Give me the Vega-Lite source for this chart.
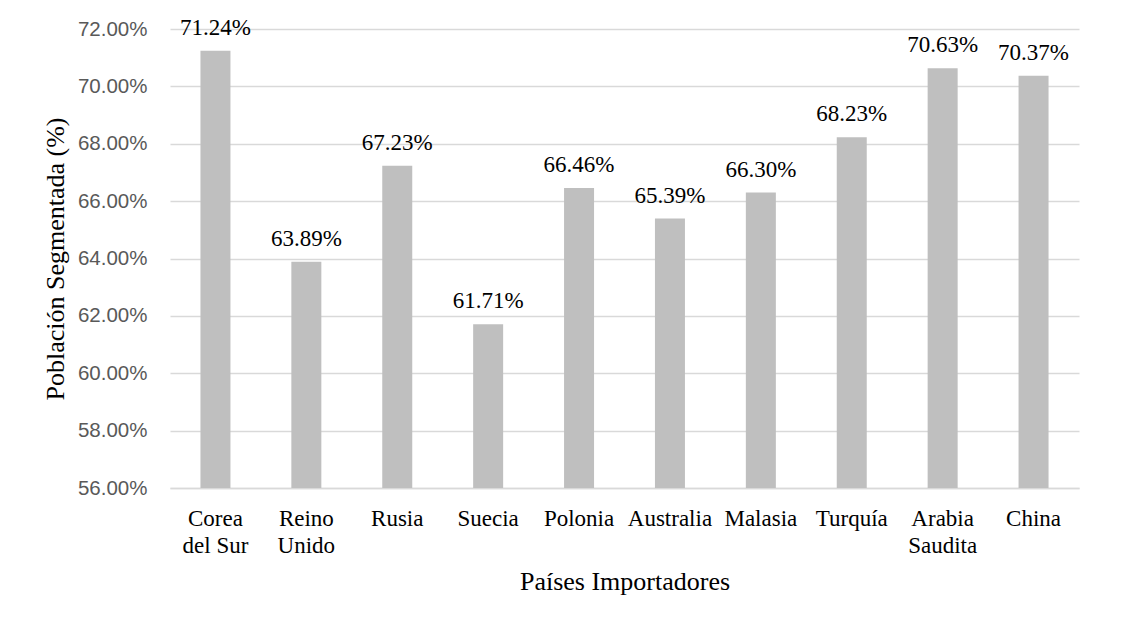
{
  "$schema": "https://vega.github.io/schema/vega-lite/v6.json",
  "autosize": "none",
  "width": 909,
  "height": 459,
  "padding": {"left": 170, "top": 29, "right": 42, "bottom": 140},
  "background": "white",
  "config": {
    "view": {"stroke": null},
    "font": "Liberation Serif",
    "text": {"font": "Liberation Serif, serif"}
  },
  "data": {
    "values": [
      {"pais": "Corea del Sur", "valor": 0.7124},
      {"pais": "Reino Unido", "valor": 0.6389},
      {"pais": "Rusia", "valor": 0.6723},
      {"pais": "Suecia", "valor": 0.6171},
      {"pais": "Polonia", "valor": 0.6646},
      {"pais": "Australia", "valor": 0.6539},
      {"pais": "Malasia", "valor": 0.6630},
      {"pais": "Turquía", "valor": 0.6823},
      {"pais": "Arabia Saudita", "valor": 0.7063},
      {"pais": "China", "valor": 0.7037}
    ]
  },
  "encoding": {
    "x": {
      "field": "pais",
      "type": "nominal",
      "sort": null,
      "scale": {"paddingInner": 0.67, "paddingOuter": 0.335},
      "axis": {
        "title": "Países Importadores",
        "titleFont": "Liberation Serif",
        "titleFontSize": 26,
        "titleFontWeight": "normal",
        "titleColor": "#000000",
        "titleBaseline": "alphabetic",
        "titleY": 101,
        "labelFont": "Liberation Serif",
        "labelFontSize": 23,
        "labelColor": "#000000",
        "labelAngle": 0,
        "labelBaseline": "top",
        "labelPadding": 19,
        "labelLineHeight": 27,
        "labelExpr": "datum.label == 'Corea del Sur' ? ['Corea', 'del Sur'] : datum.label == 'Reino Unido' ? ['Reino', 'Unido'] : datum.label == 'Arabia Saudita' ? ['Arabia', 'Saudita'] : datum.label",
        "ticks": false,
        "domain": true,
        "domainColor": "#d9d9d9",
        "domainWidth": 1.5
      }
    },
    "y": {
      "field": "valor",
      "type": "quantitative",
      "scale": {"domain": [0.56, 0.72], "nice": false, "zero": false},
      "axis": {
        "title": "Población Segmentada (%)",
        "titleFont": "Liberation Serif",
        "titleFontSize": 26,
        "titleFontWeight": "normal",
        "titleColor": "#000000",
        "titleAngle": -90,
        "titleBaseline": "middle",
        "titleX": -115,
        "titleY": 229.5,
        "values": [0.56, 0.58, 0.60, 0.62, 0.64, 0.66, 0.68, 0.70, 0.72],
        "format": ".2%",
        "labelFont": "Liberation Sans",
        "labelFontSize": 20.5,
        "labelColor": "#595959",
        "labelPadding": 23,
        "ticks": false,
        "domain": false,
        "grid": true,
        "gridColor": "#d9d9d9",
        "gridWidth": 1.5
      }
    }
  },
  "layer": [
    {
      "mark": {"type": "bar", "color": "#bfbfbf", "clip": true}
    },
    {
      "mark": {
        "type": "text",
        "font": "Liberation Serif, serif",
        "fontSize": 23,
        "color": "#000000",
        "baseline": "alphabetic",
        "dy": -16
      },
      "encoding": {
        "text": {"field": "valor", "type": "quantitative", "format": ".2%"}
      }
    }
  ]
}
